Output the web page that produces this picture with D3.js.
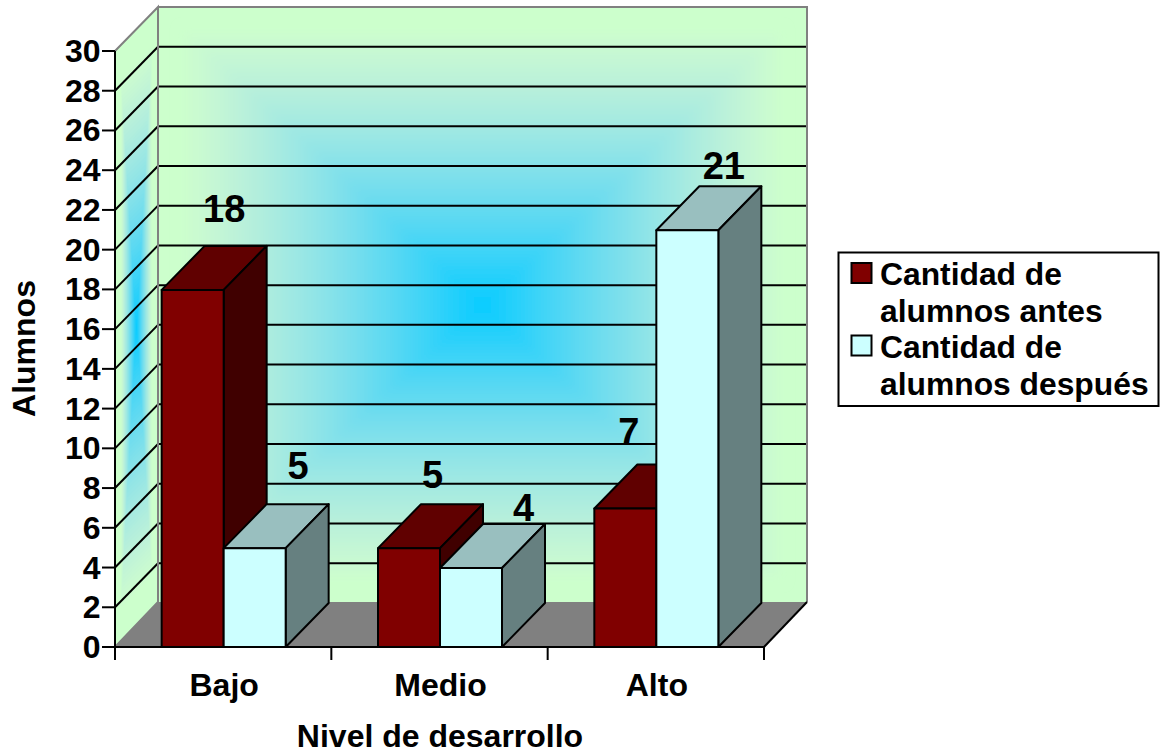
<!DOCTYPE html>
<html><head><meta charset="utf-8">
<script src="https://cdn.jsdelivr.net/npm/d3@7"></script>
<style>html,body{margin:0;padding:0;background:#fff}svg{display:block}text{font-family:"Liberation Sans",Arial,sans-serif;font-weight:700;fill:#000}</style>
</head><body><svg id="c" width="1162" height="753"></svg>
<script>
const categories=["Bajo","Medio","Alto"];
const seriesNames=["Cantidad de alumnos antes","Cantidad de alumnos después"];
const antes=[18,5,7];
const despues=[5,4,21];
const yTicks=[0,2,4,6,8,10,12,14,16,18,20,22,24,26,28,30];
const xTitle="Nivel de desarrollo";
const yTitle="Alumnos";
// hand-placed label offsets from the bar front's top centre, [dx, dy] in px
const labelNudge=[[32,-67],[44,-69],[24,-60],[53,-47],[4,-63],[37,-51]];

const svg=d3.select("#c");
const y=d3.scaleLinear().domain([0,30]).range([647,51]);
const x0=d3.scaleBand().domain(categories).range([115,764]);
const dx=43,dy=-44;
const barW=62, pad=(x0.bandwidth()-2*barW)/2;
const L=x0.range()[0],R=x0.range()[1];
const poly=p=>"M"+p.map(a=>a.join(",")).join("L")+"Z";

const cGreen="#ccffcc";
const col=t=>{const a=Math.pow(t,1.45),b=Math.pow(t,0.8);return d3.rgb(204*(1-a)+12*a,255-51*b,204+51*b).formatHex();};
const defs=svg.append("defs");
defs.append("filter").attr("id","soft").attr("x","-5%").attr("y","-5%").attr("width","110%").attr("height","110%").append("feGaussianBlur").attr("stdDeviation",5);
const bx0=L+dx,bx1=R+dx,by0=y(30)+dy,by1=y(0)+dy;
defs.append("clipPath").attr("id","backClip").append("rect").attr("x",bx0).attr("y",by0).attr("width",bx1-bx0).attr("height",by1-by0);
const wall=svg.append("g").attr("clip-path","url(#backClip)");
wall.append("rect").attr("x",bx0).attr("y",by0).attr("width",bx1-bx0).attr("height",by1-by0).attr("fill",cGreen);
const cx=(bx0+bx1)/2,cy=(by0+by1)/2;
const steps=d3.range(0,70);
const soft=wall.append("g").attr("filter","url(#soft)");
soft.selectAll("rect").data(steps).join("rect")
 .each(function(i){const s=(1-i/70)*0.93,w=(bx1-bx0)/2*s,h=(by1-by0)/2*s;
  d3.select(this).attr("x",cx-w).attr("y",cy-h).attr("width",2*w).attr("height",2*h).attr("fill",col(i/69));});
// side wall
svg.append("path").attr("d",poly([[L,y(0)],[L+dx,y(0)+dy],[L+dx,y(30)+dy],[L,y(30)]])).attr("fill",cGreen);
const side=svg.append("g");
steps.forEach(i=>{const s=1-i/70,hw=dx/2*0.72*s,mx=L+dx/2,hh=(y(0)-y(30))/2*0.9*s;const my=(y(0)+y(30))/2+dy/2;
 const sk=-dy/dx;
 side.append("path").attr("d",poly([[mx-hw,my-hh+hw*sk],[mx+hw,my-hh-hw*sk],[mx+hw,my+hh-hw*sk],[mx-hw,my+hh+hw*sk]])).attr("fill",col(i/69));});
// floor
svg.append("path").attr("d",poly([[L,y(0)],[R,y(0)],[R+dx,y(0)+dy-1],[L+dx,y(0)+dy-1]])).attr("fill","#808080");
// grid
const gl=svg.append("g");
yTicks.slice(1,-1).forEach(t=>{
 gl.append("line").attr("x1",L+dx).attr("x2",R+dx).attr("y1",y(t)+dy).attr("y2",y(t)+dy).attr("stroke","#000").attr("stroke-width",2);
 gl.append("line").attr("x1",L).attr("x2",L+dx).attr("y1",y(t)).attr("y2",y(t)+dy).attr("stroke","#000").attr("stroke-width",2);
});
// wall borders
const G="#808080";
svg.append("path").attr("d",`M${L},${y(0)}L${L+dx},${y(0)+dy-1}L${L+dx},${y(30)+dy}L${L},${y(30)}`).attr("fill","none").attr("stroke",G).attr("stroke-width",2);
svg.append("path").attr("d",`M${L+dx},${y(30)+dy}H${R+dx}V${y(0)+dy-1}`).attr("fill","none").attr("stroke",G).attr("stroke-width",2);
svg.append("line").attr("x1",R).attr("y1",y(0)).attr("x2",R+dx).attr("y2",y(0)+dy-1).attr("stroke","#000").attr("stroke-width",2);
// bars
const bars=[];
categories.forEach((c,i)=>{bars.push({c,v:antes[i],k:0});bars.push({c,v:despues[i],k:1});});
const fills=[["#800000","#600000","#400000"],["#ccffff","#99bfbf","#668080"]];
const bg=svg.append("g").attr("stroke","#000").attr("stroke-width",2).attr("stroke-linejoin","round");
const barX=b=>x0(b.c)+pad+b.k*barW;
bars.forEach(b=>{const x=barX(b)+.5,t=y(b.v)+.5,z=y(0),f=fills[b.k];
 const g=bg.append("g");
 g.append("path").attr("d",poly([[x,t],[x+barW,t],[x+barW+dx,t+dy],[x+dx,t+dy]])).attr("fill",f[1]);
 g.append("path").attr("d",poly([[x+barW,t],[x+barW+dx,t+dy],[x+barW+dx,z+dy],[x+barW,z]])).attr("fill",f[2]);
 g.append("rect").attr("x",x).attr("y",t).attr("width",barW).attr("height",z-t).attr("fill",f[0]);
});
// value labels
bars.forEach((b,i)=>{svg.append("text").attr("x",barX(b)+barW/2+labelNudge[i][0]).attr("y",y(b.v)+labelNudge[i][1]).attr("text-anchor","middle").attr("font-size","38px").text(b.v);});
// axes
const ax=svg.append("g").attr("stroke","#000").attr("stroke-width",2);
ax.append("line").attr("x1",L).attr("x2",L).attr("y1",y(0)).attr("y2",y(30));
ax.append("line").attr("x1",L-1).attr("x2",R+1).attr("y1",y(0)).attr("y2",y(0));
yTicks.forEach(t=>{ax.append("line").attr("x1",L-13).attr("x2",L).attr("y1",y(t)).attr("y2",y(t));});
d3.range(4).forEach(i=>{const px=L+i*x0.bandwidth();ax.append("line").attr("x1",px).attr("x2",px).attr("y1",y(0)).attr("y2",y(0)+13);});
const F="32px";
yTicks.forEach(t=>{svg.append("text").attr("x",100.5).attr("y",y(t)+11).attr("text-anchor","end").attr("font-size",F).text(t);});
categories.forEach(c=>{svg.append("text").attr("x",x0(c)+x0.bandwidth()/2+1).attr("y",696).attr("text-anchor","middle").attr("font-size",F).text(c);});
svg.append("text").attr("x",440).attr("y",747).attr("text-anchor","middle").attr("font-size",F).text(xTitle);
svg.append("text").attr("transform","translate(35,348.5) rotate(-90)").attr("text-anchor","middle").attr("font-size",F).text(yTitle);
// legend
svg.append("rect").attr("x",838.5).attr("y",252.5).attr("width",320).attr("height",153.5).attr("fill","#fff").attr("stroke","#000").attr("stroke-width",2);
const legLines=[["Cantidad de","alumnos antes"],["Cantidad de","alumnos después"]];
legLines.forEach((ls,k)=>{const y0=284+k*72.5;
 svg.append("rect").attr("x",851.5).attr("y",y0-21).attr("width",20).attr("height",20).attr("fill",fills[k][0]).attr("stroke","#000").attr("stroke-width",2);
 ls.forEach((s,j)=>svg.append("text").attr("x",880).attr("y",y0+1+j*37).attr("font-size","31.8px").text(s));
});
</script></body></html>
